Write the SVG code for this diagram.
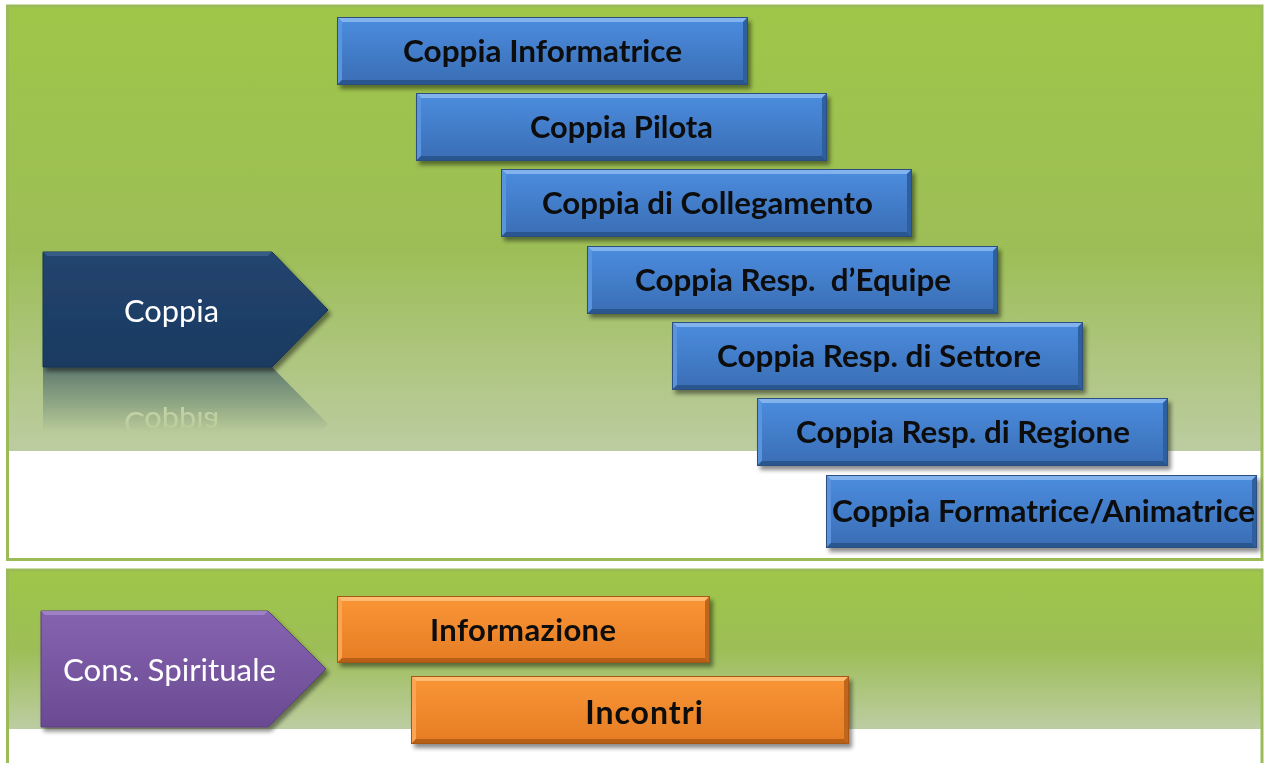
<svg xmlns="http://www.w3.org/2000/svg" xmlns:xlink="http://www.w3.org/1999/xlink" width="1265" height="763" viewBox="0 0 1265 763">
<style>
.lbl{font-family:Lato,"Open Sans","Liberation Sans",sans-serif;font-weight:bold;font-size:31px;fill:#0d0d0d;text-anchor:start}
.wlbl{font-family:Lato,"Open Sans","Liberation Sans",sans-serif;font-size:31px;fill:#ffffff}
.panel{fill:none;stroke:#9bbb59;stroke-width:3}
</style>
<defs>
<linearGradient id="gPanelTop" gradientUnits="userSpaceOnUse" x1="0" y1="6" x2="0" y2="451">
<stop offset="0" stop-color="#9fc648"/><stop offset="0.55" stop-color="#9dbe57"/><stop offset="1" stop-color="#bccca1"/>
</linearGradient>
<linearGradient id="gPanelBot" gradientUnits="userSpaceOnUse" x1="0" y1="570" x2="0" y2="730">
<stop offset="0" stop-color="#9fc648"/><stop offset="0.5" stop-color="#9dbe57"/><stop offset="1" stop-color="#bdcda3"/>
</linearGradient>
<linearGradient id="gBlue" x1="0" y1="0" x2="0" y2="1">
<stop offset="0" stop-color="#4b8ddf"/><stop offset="1" stop-color="#3a6db4"/>
</linearGradient>
<linearGradient id="gOrange" x1="0" y1="0" x2="0" y2="1">
<stop offset="0" stop-color="#fa9636"/><stop offset="1" stop-color="#e57c24"/>
</linearGradient>
<linearGradient id="gNavy" x1="0" y1="0" x2="0" y2="1">
<stop offset="0" stop-color="#224570"/><stop offset="1" stop-color="#1c3a60"/>
</linearGradient>
<linearGradient id="gPurple" x1="0" y1="0" x2="0" y2="1">
<stop offset="0" stop-color="#8663b0"/><stop offset="1" stop-color="#6a4b92"/>
</linearGradient>
<linearGradient id="gRefl" gradientUnits="userSpaceOnUse" x1="0" y1="367" x2="0" y2="432">
<stop offset="0" stop-color="#fff" stop-opacity="0.55"/><stop offset="1" stop-color="#fff" stop-opacity="0"/>
</linearGradient>
<mask id="mRefl" maskUnits="userSpaceOnUse" x="0" y="360" width="400" height="80">
<rect x="0" y="367" width="400" height="66" fill="url(#gRefl)"/>
</mask>
<filter id="sh" x="-5%" y="-10%" width="112%" height="130%">
<feDropShadow dx="3" dy="4" stdDeviation="2" flood-color="#000" flood-opacity="0.45"/>
</filter>
<g id="bbox">
<rect width="411" height="68" fill="url(#gBlue)"/>
<path d="M0 0H411L406 5H5Z" fill="#8dbaf0" opacity="0.85"/>
<path d="M0 0L5 5V63L0 68Z" fill="#5a94dc"/>
<path d="M411 0V68L406 63V5Z" fill="#2f5f9e"/>
<path d="M0 68H411L406 63H5Z" fill="#2b5790"/>
<rect x="0.5" y="0.5" width="410" height="67" fill="none" stroke="#2a4f80"/>
</g>
</defs>

<rect x="0" y="0" width="1265" height="763" fill="#ffffff"/>

<g id="panel-top">
<rect x="7.5" y="6" width="1254.5" height="445" fill="url(#gPanelTop)"/>
<rect x="7.5" y="6" width="1254.5" height="553.5" class="panel"/>
</g>
<g id="panel-bottom">
<rect x="7.5" y="570" width="1254.5" height="159" fill="url(#gPanelBot)"/>
<path d="M7.5 763V570H1262V763" class="panel"/>
</g>

<g id="coppia-reflection" mask="url(#mRefl)">
<g transform="translate(0,734) scale(1,-1)">
<path d="M43 252H272L328 310L272 367H43Z" fill="#1d3b62"/>
<text class="wlbl" x="124" y="322" textLength="95" lengthAdjust="spacingAndGlyphs">Coppia</text>
</g>
</g>

<g id="node-coppia" filter="url(#sh)">
<path d="M43 252H272L328 310L272 367H43Z" fill="url(#gNavy)" stroke="#183255"/>
<path d="M43 252H272L268 256H47Z" fill="#3d628f" opacity="0.8"/>
<text class="wlbl" x="124" y="322" textLength="95" lengthAdjust="spacingAndGlyphs">Coppia</text>
</g>

<g id="node-informatrice" filter="url(#sh)">
<use xlink:href="#bbox" x="337" y="17"/>
<text class="lbl" x="403" y="62" textLength="279" lengthAdjust="spacingAndGlyphs">Coppia Informatrice</text>
</g>
<g id="node-pilota" filter="url(#sh)">
<use xlink:href="#bbox" x="416" y="93"/>
<text class="lbl" x="530" y="138" textLength="183" lengthAdjust="spacingAndGlyphs">Coppia Pilota</text>
</g>
<g id="node-collegamento" filter="url(#sh)">
<use xlink:href="#bbox" x="501" y="169"/>
<text class="lbl" x="542" y="214" textLength="331" lengthAdjust="spacingAndGlyphs">Coppia di Collegamento</text>
</g>
<g id="node-equipe" filter="url(#sh)">
<use xlink:href="#bbox" x="587" y="246"/>
<text class="lbl" x="635" y="291" textLength="316" lengthAdjust="spacingAndGlyphs" xml:space="preserve">Coppia Resp.  d’Equipe</text>
</g>
<g id="node-settore" filter="url(#sh)">
<use xlink:href="#bbox" x="672" y="322"/>
<text class="lbl" x="717" y="367" textLength="324" lengthAdjust="spacingAndGlyphs">Coppia Resp. di Settore</text>
</g>
<g id="node-regione" filter="url(#sh)">
<use xlink:href="#bbox" x="757" y="398"/>
<text class="lbl" x="796" y="443" textLength="334" lengthAdjust="spacingAndGlyphs">Coppia Resp. di Regione</text>
</g>
<g id="node-formatrice" filter="url(#sh)">
<rect x="826" y="475" width="431" height="73" fill="url(#gBlue)"/>
<path d="M826 475H1257L1252 480H831Z" fill="#8dbaf0" opacity="0.85"/>
<path d="M826 475L831 480V543L826 548Z" fill="#5a94dc"/>
<path d="M1257 475V548L1252 543V480Z" fill="#2f5f9e"/>
<path d="M826 548H1257L1252 543H831Z" fill="#2b5790"/>
<rect x="826.5" y="475.5" width="430" height="72" fill="none" stroke="#2a4f80"/>
<text class="lbl" x="832" y="522" textLength="423" lengthAdjust="spacingAndGlyphs">Coppia Formatrice/Animatrice</text>
</g>

<g id="node-cons-spirituale" filter="url(#sh)">
<path d="M41 611H268L326 669L268 727H41Z" fill="url(#gPurple)" stroke="#5a3f80"/>
<path d="M41 611H268L264 615H45Z" fill="#a58acb" opacity="0.8"/>
<text class="wlbl" x="63" y="681" textLength="213" lengthAdjust="spacingAndGlyphs">Cons. Spirituale</text>
</g>

<g id="node-informazione" filter="url(#sh)">
<rect x="337" y="596" width="373" height="67" fill="url(#gOrange)"/>
<path d="M337 596H710L705 601H342Z" fill="#ffc07a" opacity="0.9"/>
<path d="M337 596L342 601V658L337 663Z" fill="#fba452"/>
<path d="M710 596V663L705 658V601Z" fill="#c0651a"/>
<path d="M337 663H710L705 658H342Z" fill="#b85f17"/>
<rect x="337.5" y="596.5" width="372" height="66" fill="none" stroke="#a85614"/>
<text class="lbl" x="430" y="641" textLength="186" lengthAdjust="spacing">Informazione</text>
</g>
<g id="node-incontri" filter="url(#sh)">
<rect x="411" y="676" width="438" height="68" fill="url(#gOrange)"/>
<path d="M411 676H849L844 681H416Z" fill="#ffc07a" opacity="0.9"/>
<path d="M411 676L416 681V739L411 744Z" fill="#fba452"/>
<path d="M849 676V744L844 739V681Z" fill="#c0651a"/>
<path d="M411 744H849L844 739H416Z" fill="#b85f17"/>
<rect x="411.5" y="676.5" width="437" height="67" fill="none" stroke="#a85614"/>
<text class="lbl" x="644.5" y="724" style="text-anchor:middle;font-size:32px;letter-spacing:1px">Incontri</text>
</g>

<g id="connectors"></g>
</svg>
